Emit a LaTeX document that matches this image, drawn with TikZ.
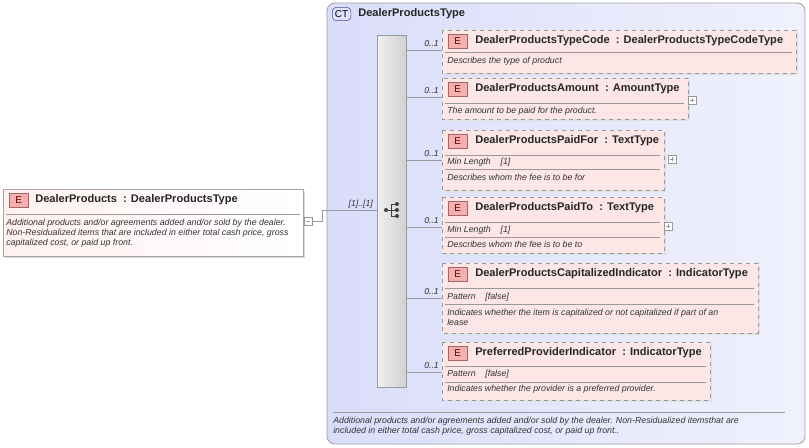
\documentclass[tikz,border=0pt]{standalone}
\usepackage{fontspec}
\setmainfont{Liberation Sans}
\definecolor{ctfill}{HTML}{DADDFA}
\definecolor{ctline}{HTML}{A0A0A8}
\definecolor{efill}{HTML}{FCE6E6}
\definecolor{badge}{HTML}{F5AFAF}
\definecolor{gline}{HTML}{999999}
\tikzset{
 x=0.75pt,y=-0.75pt,
 ttl/.style={anchor=west,inner sep=0,font=\fontsize{8.3}{10}\selectfont\bfseries,text=black!85},
 dsc/.style={anchor=west,inner sep=0,font=\fontsize{6.6}{7.6}\selectfont\itshape,text=black!80,align=left},
 mult/.style={anchor=east,inner sep=0,font=\fontsize{6.5}{8}\selectfont\itshape,text=black!80},
 ebadge/.style={draw=red!40!black!60,fill=badge,inner sep=0,minimum width=14pt,minimum height=10.5pt,font=\fontsize{7.5}{9}\selectfont,text=red!40!black,anchor=west},
 conn/.style={draw=gline,line width=0.5pt},
 sep/.style={draw=gline,line width=0.5pt},
 pm/.style={draw=gline,fill=white,minimum size=6pt,inner sep=0,line width=0.4pt},
}
\newcommand{\kid}[6]{% name, x2, y1, y2, liney, title
 \fill[black!12] (444,#3+2) rectangle (#2+2,#4+2);
 \draw[gline,dashed,fill=efill,line width=0.6pt] (442,#3) rectangle (#2,#4);
 \coordinate (#1) at (442,#5);
 \node[ebadge] (#1b) at (448,#3+11) {E};
 \node[ttl] (#1t) at (475,#3+11) {#6};
 \draw[conn] (seqr|-#1) -- (#1);
 \node[mult] (#1m) at (439,#5-6) {0..1};
}
\begin{document}
\begin{tikzpicture}
\useasboundingbox (0,0) rectangle (809,447);
\fill[white] (0,0) rectangle (809,447);
% CT box
\shade[left color=ctfill,right color=ctfill!40,rounded corners=6pt] (327,3) rectangle (805,444);
\draw[ctline,rounded corners=6pt,line width=0.6pt] (327,3) rectangle (805,444);
\node[draw=blue!40!black!70,fill=ctfill!70!blue!30,rounded corners=3pt,inner sep=0,minimum width=14pt,minimum height=10pt,font=\fontsize{7.5}{9}\selectfont,anchor=west] (ctb) at (332,14) {CT};
\node[ttl] (ctt) at (358,14) {DealerProductsType};
\draw[sep] (333,412) -- (785,412);
\node[dsc] (ctd) at (333,426) {Additional products and/or agreements added and/or sold by the dealer. Non-Residualized itemsthat are\\included in either total cash price, gross capitalized cost, or paid up front..};
% sequence bar
\shade[left color=black!6,right color=black!18] (377,35) rectangle (406,387);
\draw[black!40,line width=0.5pt] (377,35) rectangle (406,387);
\coordinate (seql) at (377,210);
\coordinate (seqr) at (406,210);
% sequence icon
\node[inner sep=0] (seqi) at (392,210) {};
\draw[black!75,line width=0.7pt] (386,210) -- (391,210) (391,204) -- (391,216) (391,204) -- (396,204) (391,210) -- (396,210) (391,216) -- (396,216);
\fill[black!75] (386,210) circle (2) (397,204) circle (2) (397,210) circle (2) (397,216) circle (2);
% main element
\fill[black!15] (5,191) rectangle (305,258);
\shade[left color=efill!80!red!20,right color=white] (3,189) rectangle (303,256);
\draw[black!35,line width=0.6pt] (3,189) rectangle (303,256);
\node[ebadge] (mb) at (9,200) {E};
\node[ttl] (mt) at (35,200) {DealerProducts\ \ : DealerProductsType};
\draw[sep] (6,214) -- (300,214);
\node[dsc] (md) at (6,233) {Additional products and/or agreements added and/or sold by the dealer.\\Non-Residualized items that are included in either total cash price, gross\\capitalized cost, or paid up front.};
\node[pm] (mm) at (308,221) {};
\draw[gline,line width=0.4pt] (306,221) -- (310,221);
\draw[conn] (mm.east) -- (322,221) -- (322,210) -- (seql);
\node[mult] (mmult) at (373,204) {[1]..[1]};
% children
\kid{c1}{796}{30}{73}{50}{DealerProductsTypeCode\ \ : DealerProductsTypeCodeType}
\draw[sep] (445,52) -- (792,52);
\node[dsc] at (447,61) {Describes the type of product};
\kid{c2}{688}{78}{119}{97}{DealerProductsAmount\ \ : AmountType}
\draw[sep] (445,103) -- (684,103);
\node[dsc] at (447,111) {The amount to be paid for the product.};
\node[pm] at (692,100) {}; \draw[gline,line width=0.4pt] (690,100) -- (694,100) (692,98) -- (692,102);
\kid{c3}{664}{130}{190}{160}{DealerProductsPaidFor\ \ : TextType}
\draw[sep] (445,155) -- (660,155);
\node[dsc] at (447,162) {Min Length\ \ \ \ [1]};
\draw[sep] (445,169) -- (660,169);
\node[dsc] at (447,177) {Describes whom the fee is to be for};
\node[pm] at (672,159) {}; \draw[gline,line width=0.4pt] (670,159) -- (674,159) (672,157) -- (672,161);
\kid{c4}{664}{197}{253}{227}{DealerProductsPaidTo\ \ : TextType}
\draw[sep] (445,222) -- (660,222);
\node[dsc] at (447,230) {Min Length\ \ \ \ [1]};
\draw[sep] (445,237) -- (660,237);
\node[dsc] at (447,244) {Describes whom the fee is to be to};
\node[pm] at (668,226) {}; \draw[gline,line width=0.4pt] (666,226) -- (670,226) (668,224) -- (668,228);
\kid{c5}{758}{263}{333}{298}{DealerProductsCapitalizedIndicator\ \ : IndicatorType}
\draw[sep] (445,288) -- (754,288);
\node[dsc] at (447,297) {Pattern\ \ \ \ [false]};
\draw[sep] (445,304) -- (754,304);
\node[dsc] at (447,317) {Indicates whether the item is capitalized or not capitalized if part of an\\lease};
\kid{c6}{710}{342}{400}{372}{PreferredProviderIndicator\ \ : IndicatorType}
\draw[sep] (445,366) -- (706,366);
\node[dsc] at (447,374) {Pattern\ \ \ \ [false]};
\draw[sep] (445,382) -- (706,382);
\node[dsc] at (447,389) {Indicates whether the provider is a preferred provider.};
\end{tikzpicture}
\end{document}
